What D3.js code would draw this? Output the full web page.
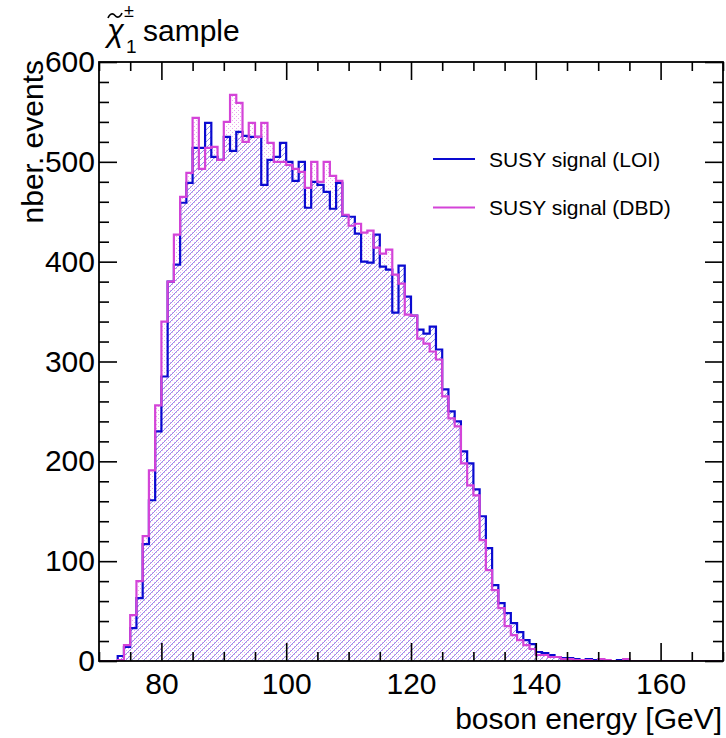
<!DOCTYPE html>
<html>
<head>
<meta charset="utf-8">
<script src="https://cdn.jsdelivr.net/npm/d3@7"></script>
<style>
  body { margin: 0; background: #fff; }
  svg { display: block; font-family: "Liberation Sans", Arial, Helvetica, sans-serif; }
</style>
</head>
<body>
<svg id="chart" width="726" height="738"></svg>
<script>
// histogram binning: 1 GeV bins from 70 to 170 GeV
var binStart = 70,
  binEnd = 170;

// bin contents, bins 70-71, 71-72, ... 169-170
var loiCounts = [
  0, 0, 0, 5, 14, 33, 63, 117, 161, 230,
  285, 380, 397, 459, 479, 514, 514, 539, 505, 502,
  525, 511, 530, 526, 525, 525, 477, 502, 505, 519,
  500, 481, 500, 454, 480, 477, 470, 453, 479, 446,
  445, 428, 400, 399, 427, 395, 392, 349, 396, 365,
  346, 332, 328, 335, 312, 272, 250, 240, 210, 198,
  172, 145, 113, 76, 58, 48, 38, 29, 21, 17,
  9, 8, 6, 4, 3, 3, 2, 1, 2, 1,
  1, 0, 0, 1, 0, 0, 0, 0, 0, 0,
  0, 0, 0, 0, 0, 0, 0, 0, 0, 0
];

var dbdCounts = [
  0, 0, 0, 1, 16, 46, 80, 125, 191, 256,
  340, 380, 427, 465, 489, 544, 493, 514, 515, 502,
  540, 567, 559, 520, 539, 525, 539, 519, 500, 500,
  497, 493, 490, 474, 500, 480, 500, 486, 481, 447,
  436, 438, 429, 431, 414, 408, 412, 387, 378, 347,
  346, 323, 318, 310, 302, 265, 243, 235, 198, 176,
  166, 121, 91, 71, 53, 35, 26, 21, 16, 12,
  6, 6, 4, 4, 2, 2, 1, 1, 1, 0,
  2, 1, 0, 0, 2, 0, 0, 0, 0, 0,
  0, 0, 0, 0, 0, 0, 0, 0, 0, 0
];

var xMajorTicks = [80, 100, 120, 140, 160];
var yMajorTicks = [0, 100, 200, 300, 400, 500, 600];

var legendLabels = ["SUSY signal (LOI)", "SUSY signal (DBD)"];

var blueColor = "#0a0ad0",
  magentaColor = "#d444d8";

var svg = d3.select("#chart");

var frame = { left: 99, right: 723, top: 62, bottom: 661 };

var xScale = d3.scaleLinear().domain([binStart, binEnd]).range([frame.left, frame.right]);
var yScale = d3.scaleLinear().domain([0, 600]).range([frame.bottom, frame.top]);

// patterns: blue hatch, magenta dots
var defs = svg.append("defs");

var hatch = defs
  .append("pattern")
  .attr("id", "blueHatch")
  .attr("patternUnits", "userSpaceOnUse")
  .attr("width", 6)
  .attr("height", 6);
hatch
  .append("path")
  .attr("d", "M-1,7 L7,-1 M-1,1 L1,-1 M5,7 L7,5")
  .attr("stroke", blueColor)
  .attr("stroke-opacity", 0.5)
  .attr("stroke-width", 0.9);

var dots = defs
  .append("pattern")
  .attr("id", "magentaDots")
  .attr("patternUnits", "userSpaceOnUse")
  .attr("width", 4)
  .attr("height", 4);
dots.append("rect").attr("x", 0).attr("y", 0).attr("width", 1).attr("height", 1).attr("fill", magentaColor).attr("fill-opacity", 0.45);
dots.append("rect").attr("x", 2).attr("y", 2).attr("width", 1).attr("height", 1).attr("fill", magentaColor).attr("fill-opacity", 0.45);

var clip = defs.append("clipPath").attr("id", "plotClip");
clip
  .append("rect")
  .attr("x", frame.left)
  .attr("y", frame.top - 2)
  .attr("width", frame.right - frame.left)
  .attr("height", frame.bottom - frame.top + 2);

// turn bin counts into step points
var stepPoints = function (counts) {
  var pts = counts.map(function (c, i) {
    return { x: binStart + i, y: c };
  });
  pts.push({ x: binEnd, y: counts[counts.length - 1] });
  return pts;
};

var line = d3
  .line()
  .curve(d3.curveStepAfter)
  .x(function (d) {
    return xScale(d.x);
  })
  .y(function (d) {
    return yScale(d.y);
  });

var area = d3
  .area()
  .curve(d3.curveStepAfter)
  .x(function (d) {
    return xScale(d.x);
  })
  .y0(yScale(0))
  .y1(function (d) {
    return yScale(d.y);
  });

var plot = svg.append("g").attr("clip-path", "url(#plotClip)");

var loiPts = stepPoints(loiCounts),
  dbdPts = stepPoints(dbdCounts);

plot.append("path").attr("d", area(loiPts)).attr("fill", "url(#blueHatch)");
plot.append("path").attr("d", area(dbdPts)).attr("fill", "url(#magentaDots)");
plot
  .append("path")
  .attr("d", line(loiPts))
  .attr("fill", "none")
  .attr("stroke", blueColor)
  .attr("stroke-width", 2.2);
plot
  .append("path")
  .attr("d", line(dbdPts))
  .attr("fill", "none")
  .attr("stroke", magentaColor)
  .attr("stroke-width", 2.2);

// axes, ticks inward on all four sides
var xMinor = d3.range(70, 171, 5).filter(function (v) {
  return xMajorTicks.indexOf(v) < 0;
});
var yMinor = d3.range(0, 601, 20).filter(function (v) {
  return yMajorTicks.indexOf(v) < 0;
});

var styleAxis = function (g) {
  g.select(".domain").remove();
  g.selectAll(".tick line").attr("stroke", "#000").attr("stroke-width", 1.6);
  g.selectAll(".tick text").attr("fill", "#000").attr("font-size", 30);
};

svg
  .append("g")
  .attr("transform", "translate(0," + frame.bottom + ")")
  .call(d3.axisBottom(xScale).tickValues(xMajorTicks).tickSize(-18).tickPadding(12).tickFormat(d3.format("d")))
  .call(styleAxis);
svg
  .append("g")
  .attr("transform", "translate(0," + frame.bottom + ")")
  .call(d3.axisBottom(xScale).tickValues(xMinor).tickSize(-9).tickFormat(""))
  .call(styleAxis);
svg
  .append("g")
  .attr("transform", "translate(0," + frame.top + ")")
  .call(d3.axisTop(xScale).tickValues(xMajorTicks).tickSize(-18).tickFormat(""))
  .call(styleAxis);
svg
  .append("g")
  .attr("transform", "translate(0," + frame.top + ")")
  .call(d3.axisTop(xScale).tickValues(xMinor).tickSize(-9).tickFormat(""))
  .call(styleAxis);

svg
  .append("g")
  .attr("transform", "translate(" + frame.left + ",0)")
  .call(d3.axisLeft(yScale).tickValues(yMajorTicks).tickSize(-18).tickPadding(4).tickFormat(d3.format("d")))
  .call(styleAxis);
svg
  .append("g")
  .attr("transform", "translate(" + frame.left + ",0)")
  .call(d3.axisLeft(yScale).tickValues(yMinor).tickSize(-10).tickFormat(""))
  .call(styleAxis);
svg
  .append("g")
  .attr("transform", "translate(" + frame.right + ",0)")
  .call(d3.axisRight(yScale).tickValues(yMajorTicks).tickSize(-18).tickFormat(""))
  .call(styleAxis);
svg
  .append("g")
  .attr("transform", "translate(" + frame.right + ",0)")
  .call(d3.axisRight(yScale).tickValues(yMinor).tickSize(-10).tickFormat(""))
  .call(styleAxis);

svg
  .append("rect")
  .attr("x", frame.left)
  .attr("y", frame.top)
  .attr("width", frame.right - frame.left)
  .attr("height", frame.bottom - frame.top)
  .attr("fill", "none")
  .attr("stroke", "#000")
  .attr("stroke-width", 1.8);

// axis titles
svg
  .append("text")
  .attr("x", 722)
  .attr("y", 729)
  .attr("text-anchor", "end")
  .attr("font-size", 30)
  .text("boson energy [GeV]");

svg
  .append("text")
  .attr("transform", "translate(43,60) rotate(-90)")
  .attr("text-anchor", "end")
  .attr("font-size", 30)
  .text("nber. events");

// title: chi with tilde, superscript +-, subscript 1
var title = svg.append("g");
title.append("text").attr("x", 107).attr("y", 41).attr("font-size", 31).attr("font-style", "italic").text("χ");
title
  .append("path")
  .attr("d", "M108,18 C110,13 113,13 115,15.5 C117,18 120,18 122,13")
  .attr("fill", "none")
  .attr("stroke", "#000")
  .attr("stroke-width", 1.6);
title.append("text").attr("x", 124).attr("y", 17).attr("font-size", 18).text("±");
title.append("text").attr("x", 126).attr("y", 53).attr("font-size", 19).text("1");
title.append("text").attr("x", 143).attr("y", 41).attr("font-size", 30).text("sample");

// legend
var legend = svg.append("g");
var legendColors = [blueColor, magentaColor];
legendLabels.forEach(function (lab, i) {
  var ly = 159 + i * 48.5;
  legend
    .append("line")
    .attr("x1", 433)
    .attr("x2", 475)
    .attr("y1", ly)
    .attr("y2", ly)
    .attr("stroke", legendColors[i])
    .attr("stroke-width", 2);
  legend
    .append("text")
    .attr("x", 489)
    .attr("y", ly + 7.5)
    .attr("font-size", 21)
    .text(lab);
});
</script>
</body>
</html>
